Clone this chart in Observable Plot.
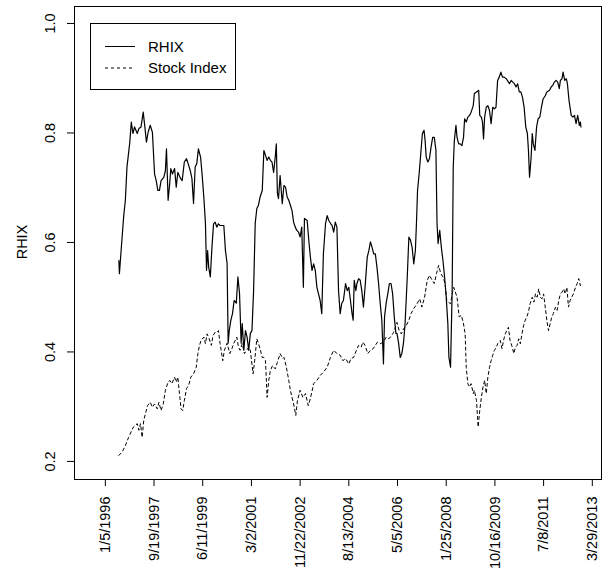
<!DOCTYPE html>
<html>
<head>
<meta charset="utf-8">
<script src="https://cdn.jsdelivr.net/npm/d3@7"></script>
<script src="https://cdn.jsdelivr.net/npm/@observablehq/plot@0.6"></script>
<style>
  html, body { margin: 0; padding: 0; background: #fff; }
  #chart svg { display: block; font-family: "Liberation Sans", Arial, Helvetica, sans-serif; }
</style>
</head>
<body>
<div id="chart"></div>
<script>
// Tick positions are weekly observation numbers; labels are the dates at those observations
const xTickWeeks = [0, 90, 180, 270, 360, 450, 540, 630, 720, 810, 900];
const xTickLabels = ["1/5/1996", "9/19/1997", "6/11/1999", "3/2/2001", "11/22/2002", "8/13/2004",
  "5/5/2006", "1/25/2008", "10/16/2009", "7/8/2011", "3/29/2013"];
const yTicks = [0.2, 0.4, 0.6, 0.8, 1.0];
const seriesNames = ["RHIX", "Stock Index"];

const rhixWeek = [25,26,31,34,37,40,45,48,51,54,59,62,66,70,73,76,79,83,87,91,94,97,100,103,108,111,113,116,119,121,124,128,131,134,139,142,146,150,153,157,160,163,166,169,172,176,179,182,185,187,189,191,194,197,200,203,206,209,212,219,222,225,227,229,232,235,238,242,245,248,251,253,256,259,262,265,268,271,274,277,280,283,286,290,293,296,299,302,305,308,311,314,316,318,320,323,327,330,333,336,339,342,345,348,351,354,357,360,363,366,368,373,376,379,382,385,388,391,394,397,400,403,407,410,413,416,419,422,425,428,431,434,437,440,444,447,450,453,456,458,460,463,465,468,471,474,477,480,484,487,490,493,496,499,502,505,508,511,514,516,519,522,525,528,531,534,537,539,542,545,548,551,554,558,561,564,567,570,573,575,577,580,583,586,589,591,593,596,599,602,605,608,611,613,615,618,621,624,627,630,633,635,638,641,643,645,648,650,653,656,659,662,664,667,670,673,676,680,682,686,690,692,695,697,699,701,704,707,710,713,716,719,722,725,728,731,734,737,741,743,747,750,753,756,759,762,765,768,771,774,777,780,782,784,787,789,791,794,797,800,803,806,809,813,816,821,824,827,830,833,836,839,841,844,846,849,852,854,857,861,864,867,870,873,876,878,879];
const rhixValue = [0.567,0.543,0.610,0.649,0.677,0.738,0.781,0.820,0.799,0.811,0.799,0.808,0.811,0.838,0.811,0.783,0.801,0.814,0.801,0.725,0.713,0.695,0.695,0.713,0.719,0.731,0.771,0.677,0.708,0.735,0.725,0.735,0.701,0.728,0.717,0.713,0.747,0.753,0.744,0.731,0.717,0.671,0.738,0.744,0.771,0.756,0.722,0.683,0.635,0.549,0.585,0.555,0.537,0.591,0.634,0.637,0.628,0.634,0.631,0.631,0.585,0.562,0.416,0.439,0.458,0.470,0.494,0.489,0.537,0.507,0.416,0.452,0.403,0.439,0.427,0.403,0.434,0.439,0.512,0.635,0.662,0.668,0.683,0.695,0.768,0.759,0.750,0.756,0.750,0.747,0.728,0.756,0.780,0.690,0.680,0.722,0.671,0.704,0.701,0.683,0.677,0.668,0.658,0.637,0.628,0.622,0.619,0.610,0.628,0.518,0.644,0.640,0.604,0.573,0.549,0.561,0.549,0.518,0.506,0.494,0.470,0.579,0.635,0.649,0.640,0.635,0.631,0.619,0.637,0.628,0.512,0.470,0.489,0.494,0.525,0.512,0.518,0.494,0.470,0.458,0.531,0.512,0.525,0.534,0.531,0.512,0.482,0.518,0.573,0.585,0.601,0.591,0.579,0.579,0.555,0.525,0.489,0.458,0.378,0.464,0.489,0.506,0.525,0.525,0.506,0.464,0.434,0.434,0.416,0.390,0.397,0.416,0.452,0.537,0.610,0.604,0.591,0.561,0.585,0.635,0.695,0.726,0.763,0.799,0.805,0.786,0.756,0.747,0.753,0.774,0.792,0.792,0.768,0.635,0.598,0.622,0.591,0.567,0.537,0.500,0.452,0.390,0.372,0.512,0.738,0.786,0.814,0.792,0.780,0.780,0.777,0.792,0.826,0.820,0.829,0.832,0.838,0.850,0.872,0.875,0.878,0.832,0.829,0.820,0.789,0.829,0.847,0.850,0.841,0.817,0.847,0.844,0.847,0.896,0.902,0.911,0.902,0.902,0.899,0.896,0.890,0.896,0.893,0.890,0.884,0.890,0.875,0.875,0.865,0.847,0.811,0.799,0.768,0.719,0.756,0.799,0.780,0.768,0.811,0.826,0.829,0.847,0.862,0.868,0.875,0.878,0.884,0.887,0.893,0.896,0.893,0.881,0.896,0.899,0.911,0.896,0.899,0.890,0.859,0.832,0.829,0.832,0.817,0.832,0.814,0.820,0.811];

const stockWeek = [25,31,37,43,49,52,59,62,65,68,71,74,78,83,87,91,96,99,103,107,111,115,119,123,128,131,134,137,140,143,146,150,154,158,163,168,171,174,177,182,185,188,192,196,199,203,207,209,212,217,220,225,230,234,237,243,246,249,253,257,261,265,268,273,276,280,285,290,293,296,299,302,305,309,314,318,323,328,330,334,339,342,345,348,352,355,360,365,370,375,379,385,391,397,403,410,416,422,428,434,439,444,450,454,459,464,468,473,476,480,485,490,495,499,503,508,514,519,524,529,533,539,543,547,551,556,561,565,570,576,581,585,590,595,599,604,608,612,616,620,624,628,631,634,638,641,644,650,654,658,662,665,667,670,673,676,680,682,686,689,692,695,698,701,704,707,710,713,716,719,723,725,730,733,736,739,742,745,748,752,755,758,761,764,767,770,773,776,779,782,785,789,792,795,798,801,804,807,810,813,816,819,822,825,828,832,835,838,841,844,847,850,853,856,859,862,865,869,872,875,878,879];
const stockValue = [0.211,0.217,0.229,0.244,0.257,0.263,0.269,0.257,0.269,0.244,0.275,0.287,0.302,0.308,0.299,0.305,0.296,0.308,0.293,0.305,0.330,0.342,0.348,0.342,0.354,0.345,0.354,0.324,0.296,0.293,0.311,0.333,0.339,0.354,0.360,0.372,0.397,0.412,0.421,0.427,0.415,0.433,0.424,0.412,0.430,0.436,0.436,0.439,0.416,0.384,0.403,0.416,0.397,0.406,0.415,0.427,0.409,0.403,0.415,0.397,0.403,0.409,0.403,0.360,0.384,0.424,0.409,0.390,0.390,0.384,0.317,0.348,0.366,0.375,0.369,0.381,0.397,0.388,0.390,0.375,0.348,0.330,0.317,0.305,0.284,0.311,0.330,0.317,0.324,0.302,0.315,0.342,0.348,0.357,0.363,0.372,0.390,0.403,0.397,0.394,0.384,0.388,0.378,0.388,0.390,0.403,0.412,0.409,0.418,0.412,0.397,0.403,0.406,0.412,0.418,0.415,0.418,0.427,0.424,0.430,0.436,0.454,0.439,0.433,0.442,0.448,0.458,0.470,0.479,0.488,0.497,0.482,0.500,0.531,0.540,0.531,0.525,0.543,0.558,0.543,0.537,0.525,0.494,0.491,0.488,0.506,0.518,0.500,0.464,0.467,0.451,0.433,0.372,0.342,0.336,0.342,0.324,0.330,0.311,0.263,0.293,0.317,0.336,0.348,0.324,0.354,0.372,0.384,0.394,0.403,0.409,0.415,0.421,0.406,0.421,0.433,0.439,0.445,0.421,0.409,0.397,0.409,0.412,0.424,0.415,0.433,0.448,0.458,0.464,0.473,0.488,0.500,0.491,0.506,0.500,0.515,0.500,0.497,0.506,0.482,0.458,0.439,0.451,0.464,0.470,0.482,0.476,0.494,0.506,0.509,0.515,0.506,0.518,0.482,0.494,0.500,0.506,0.518,0.525,0.534,0.521,0.523];

const rhixRows = rhixWeek.map((w, i) => ({week: w, value: rhixValue[i]}));
const stockRows = stockWeek.map((w, i) => ({week: w, value: stockValue[i]}));

const FONT = 14.5;

const chart = Plot.plot({
  width: 603,
  height: 572,
  marginLeft: 74,
  marginRight: 2,
  marginTop: 6,
  marginBottom: 93,
  style: {fontSize: FONT + "px", fontFamily: '"Liberation Sans", Arial, Helvetica, sans-serif', background: "#fff", color: "#000"},
  x: {domain: [-57, 917]},
  y: {domain: [0.167, 1.031]},
  marks: [
    Plot.frame({stroke: "#000", strokeWidth: 1}),
    Plot.axisX({ticks: xTickWeeks, tickFormat: (d) => xTickLabels[xTickWeeks.indexOf(d)],
      tickSize: 7, tickPadding: 10, tickRotate: -90, label: null, fontSize: FONT}),
    Plot.axisY({ticks: yTicks, tickSize: 7, tickFormat: () => "", label: null}),
    Plot.text(yTicks, {y: (d) => d, text: d3.format(".1f"), frameAnchor: "left", rotate: -90,
      dx: -24, textAnchor: "middle", lineAnchor: "middle", fontSize: FONT, fill: "#000"}),
    Plot.line(stockRows, {x: "week", y: "value", stroke: "#000", strokeWidth: 1, strokeDasharray: "3,3"}),
    Plot.line(rhixRows, {x: "week", y: "value", stroke: "#000", strokeWidth: 1.2})
  ]
});
document.getElementById("chart").appendChild(chart);

// y axis title and legend (drawn in the same SVG)
const svg = d3.select(chart);
svg.append("text")
  .attr("transform", "translate(27,242) rotate(-90)")
  .attr("text-anchor", "middle")
  .attr("font-size", FONT + "px")
  .attr("fill", "#000")
  .text(seriesNames[0]);

const lg = svg.append("g").attr("text-anchor", "start");
lg.append("rect").attr("x", 90.5).attr("y", 23.5).attr("width", 145).attr("height", 66)
  .attr("fill", "#fff").attr("stroke", "#000");
const dashes = [null, "3,3"];
seriesNames.forEach((name, i) => {
  const cy = 46.5 + i * 21.5;
  lg.append("line").attr("x1", 105).attr("x2", 135).attr("y1", cy).attr("y2", cy)
    .attr("stroke", "#000").attr("stroke-width", 1).attr("stroke-dasharray", dashes[i]);
  lg.append("text").attr("x", 148).attr("y", cy).attr("dy", "0.35em")
    .attr("text-anchor", "start")
    .attr("font-size", "15px").attr("fill", "#000").text(name);
});
</script>
</body>
</html>
